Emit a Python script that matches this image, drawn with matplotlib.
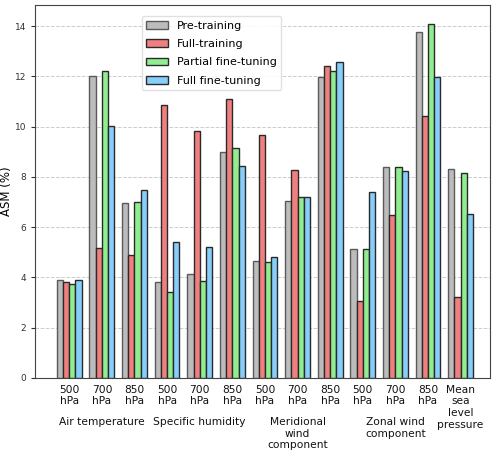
import numpy as np
import matplotlib
matplotlib.use('Agg')
import matplotlib.pyplot as plt
import matplotlib.transforms as mtransforms

# Tick labels (pressure levels) and group labels
tick_labels = ['500\nhPa', '700\nhPa', '850\nhPa',
               '500\nhPa', '700\nhPa', '850\nhPa',
               '500\nhPa', '700\nhPa', '850\nhPa',
               '500\nhPa', '700\nhPa', '850\nhPa',
               'Mean\nsea\nlevel\npressure']
group_labels = ['Air temperature', 'Specific humidity',
                'Meridional\nwind\ncomponent', 'Zonal wind\ncomponent']
group_centers = [1, 4, 7, 10]

series = ['Pre-training', 'Full-training', 'Partial fine-tuning', 'Full fine-tuning']
pre_training = [3.9, 12.0, 6.95, 3.8, 4.15, 8.98, 4.67, 7.05, 11.97, 5.12, 8.39, 13.75, 8.3]
full_training = [3.8, 5.15, 4.9, 10.85, 9.81, 11.1, 9.68, 8.29, 12.42, 3.05, 6.48, 10.41, 3.23]
partial_ft = [3.75, 12.21, 7.0, 3.4, 3.85, 9.15, 4.61, 7.19, 12.2, 5.14, 8.4, 14.1, 8.15]
full_ft = [3.9, 10.02, 7.48, 5.4, 5.2, 8.43, 4.83, 7.19, 12.58, 7.4, 8.23, 11.98, 6.52]

colors = ['#bcbcbc', '#f08080', '#90ee90', '#87cefa']
edges = ['#5a5a5a', '#2a2a2a', '#2a2a2a', '#2a2a2a']

fig, ax = plt.subplots(figsize=(5, 4.58), dpi=100)
fig.subplots_adjust(left=0.07, right=0.98, top=0.989, bottom=0.175)

x = np.arange(len(tick_labels))
width = 0.19
data = [pre_training, full_training, partial_ft, full_ft]
for i, vals in enumerate(data):
    ax.bar(x + (i - 1.5) * width, vals, width, color=colors[i], edgecolor=edges[i],
           linewidth=1.0, label=series[i], zorder=3)

ax.set_xlim(-1.05, 12.9)
ax.set_ylim(0, 14.84)
ax.set_yticks([0, 2, 4, 6, 8, 10, 12, 14])
ax.tick_params(axis='y', labelsize=6.5, colors='#333333', length=3)
ax.set_xticks(x)
ax.set_xticklabels(tick_labels, fontsize=7.7, color='#111111')
ax.tick_params(axis='x', length=0, pad=5)
ax.set_ylabel('ASM (%)', fontsize=8.5)
ax.yaxis.set_label_coords(-0.048, 0.5)
ax.yaxis.grid(True, linestyle='--', color='#cccccc', linewidth=0.7, zorder=0)
ax.set_axisbelow(True)
for sp in ax.spines.values():
    sp.set_color('#444444')

trans = mtransforms.blended_transform_factory(ax.transData, ax.transAxes)
for cx, lab in zip(group_centers, group_labels):
    ax.text(cx, -0.105, lab, transform=trans, ha='center', va='top', fontsize=7.7,
            color='#111111')

ax.legend(loc='upper left', bbox_to_anchor=(0.222, 0.985), fontsize=8,
          framealpha=0.9, edgecolor='#dddddd', labelspacing=0.75)

fig.savefig('out.png', dpi=100)
